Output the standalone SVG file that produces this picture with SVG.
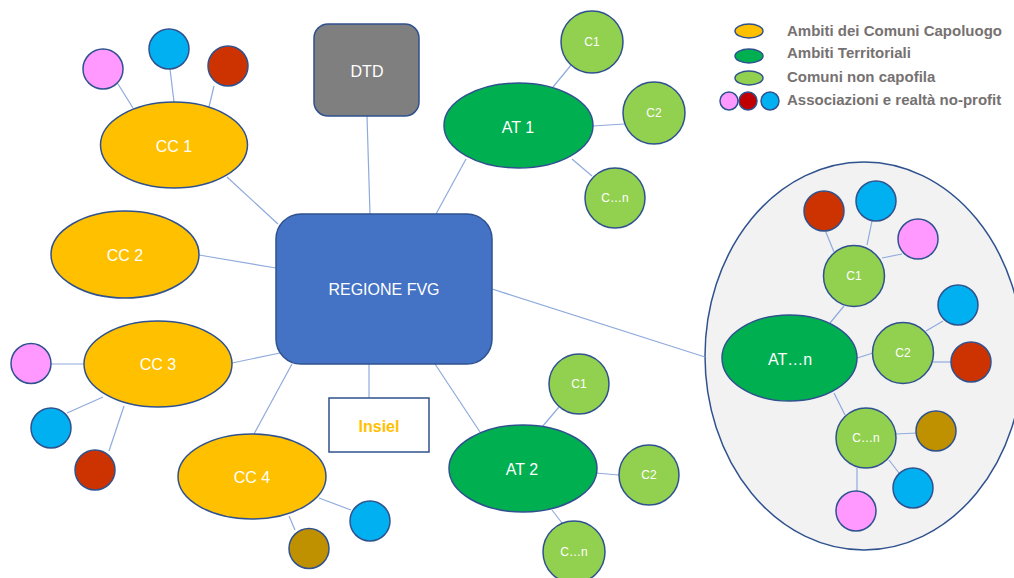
<svg xmlns="http://www.w3.org/2000/svg" width="1014" height="578" viewBox="0 0 1014 578">
<style>
.ln{stroke:#8FAADC;stroke-width:1.2;fill:none}
.nd{stroke:#2F528F;stroke-width:1.5}
.cc{fill:#FFC000}
.at{fill:#00B050}
.cm{fill:#92D050}
.pk{fill:#FF99FF}
.rd{fill:#CC3300}
.bl{fill:#00B0F0}
.br{fill:#BF9000}
.t{font-family:"Liberation Sans",Arial,sans-serif;fill:#FFFFFF;text-anchor:middle;dominant-baseline:central;font-size:16px}
.ts{font-size:12px}
.lg{font-family:"Liberation Sans",Arial,sans-serif;fill:#767171;font-weight:bold;font-size:15px}
</style>
<rect width="1014" height="578" fill="#FFFFFF"/>
<g id="cluster-atn">
<ellipse cx="864" cy="356" rx="159" ry="194" fill="#F2F2F2" stroke="#2F528F" stroke-width="1.5"/>
</g>
<g id="connectors">
<line class="ln" x1="367" y1="116" x2="370" y2="214"/>
<line class="ln" x1="227" y1="177" x2="278" y2="224"/>
<line class="ln" x1="199" y1="255" x2="276" y2="268"/>
<line class="ln" x1="466" y1="159" x2="436" y2="214"/>
<line class="ln" x1="492" y1="289" x2="705" y2="357"/>
<line class="ln" x1="232" y1="363" x2="280" y2="353"/>
<line class="ln" x1="292" y1="364" x2="254" y2="434"/>
<line class="ln" x1="369" y1="364" x2="369" y2="398"/>
<line class="ln" x1="435" y1="364" x2="480" y2="432"/>
<line class="ln" x1="118" y1="84" x2="133" y2="108"/>
<line class="ln" x1="170" y1="69" x2="174" y2="102"/>
<line class="ln" x1="214" y1="86" x2="209" y2="107"/>
<line class="ln" x1="51" y1="364" x2="84" y2="364"/>
<line class="ln" x1="67" y1="413" x2="103" y2="397"/>
<line class="ln" x1="109" y1="451" x2="124" y2="406"/>
<line class="ln" x1="319" y1="498" x2="351" y2="510"/>
<line class="ln" x1="289" y1="516" x2="295" y2="530"/>
<line class="ln" x1="572" y1="64" x2="553" y2="87"/>
<line class="ln" x1="593" y1="126" x2="624" y2="124"/>
<line class="ln" x1="572" y1="159" x2="592" y2="176"/>
<line class="ln" x1="559" y1="407" x2="542" y2="427"/>
<line class="ln" x1="596" y1="473" x2="619" y2="475"/>
<line class="ln" x1="552" y1="510" x2="562" y2="523"/>
<line class="ln" x1="830" y1="323" x2="844" y2="306"/>
<line class="ln" x1="857" y1="358" x2="873" y2="353"/>
<line class="ln" x1="834" y1="393" x2="845" y2="415"/>
<line class="ln" x1="834" y1="252" x2="825" y2="230"/>
<line class="ln" x1="867" y1="245" x2="872" y2="221"/>
<line class="ln" x1="882" y1="258" x2="902" y2="254"/>
<line class="ln" x1="926" y1="331" x2="943" y2="321"/>
<line class="ln" x1="933" y1="362" x2="952" y2="362"/>
<line class="ln" x1="896" y1="434" x2="917" y2="433"/>
<line class="ln" x1="889" y1="460" x2="899" y2="473"/>
<line class="ln" x1="857" y1="468" x2="857" y2="491"/>
</g>
<g id="regione">
<rect class="nd" x="276" y="214" width="216" height="150" rx="25" fill="#4472C4"/>
<text class="t" x="384" y="289">REGIONE FVG</text>
</g>
<g id="dtd">
<rect class="nd" x="314" y="24" width="105" height="92" rx="14" fill="#7F7F7F"/>
<text class="t" x="367" y="71">DTD</text>
</g>
<g id="insiel">
<rect x="329" y="398" width="100" height="54" fill="#FFFFFF" stroke="#2F528F" stroke-width="1.5"/>
<text class="t" x="379" y="426" style="fill:#FFC000;font-weight:bold">Insiel</text>
</g>
<g id="cc1">
<ellipse class="nd cc" cx="174" cy="145" rx="73.5" ry="43"/>
<text class="t" x="174" y="146">CC 1</text>
<circle class="nd pk" cx="103" cy="69" r="20"/>
<circle class="nd bl" cx="169" cy="49" r="20"/>
<circle class="nd rd" cx="228" cy="66" r="20"/>
</g>
<g id="cc2">
<ellipse class="nd cc" cx="125" cy="254.5" rx="74" ry="43.5"/>
<text class="t" x="125" y="255">CC 2</text>
</g>
<g id="cc3">
<ellipse class="nd cc" cx="158" cy="364" rx="74" ry="43"/>
<text class="t" x="158" y="364">CC 3</text>
<circle class="nd pk" cx="31" cy="363.5" r="20"/>
<circle class="nd bl" cx="51" cy="428" r="20"/>
<circle class="nd rd" cx="95" cy="470" r="20"/>
</g>
<g id="cc4">
<ellipse class="nd cc" cx="252" cy="476.5" rx="74" ry="42.5"/>
<text class="t" x="252" y="477">CC 4</text>
<circle class="nd bl" cx="370" cy="521" r="20"/>
<circle class="nd br" cx="309" cy="548.5" r="20"/>
</g>
<g id="at1">
<ellipse class="nd at" cx="518.5" cy="125.5" rx="74.5" ry="42.5"/>
<text class="t" x="518" y="127">AT 1</text>
<circle class="nd cm" cx="592" cy="42" r="31"/>
<text class="t ts" x="592" y="42">C1</text>
<circle class="nd cm" cx="654" cy="113" r="31"/>
<text class="t ts" x="654" y="113">C2</text>
<circle class="nd cm" cx="615" cy="198" r="30"/>
<text class="t ts" x="615" y="198">C…n</text>
</g>
<g id="at2">
<ellipse class="nd at" cx="523" cy="468.5" rx="74" ry="43.5"/>
<text class="t" x="522" y="469">AT 2</text>
<circle class="nd cm" cx="579" cy="384" r="30"/>
<text class="t ts" x="579" y="384">C1</text>
<circle class="nd cm" cx="649" cy="475" r="30"/>
<text class="t ts" x="649" y="475">C2</text>
<circle class="nd cm" cx="574" cy="552" r="31"/>
<text class="t ts" x="574" y="552">C…n</text>
</g>
<g id="atn">
<ellipse class="nd at" cx="789.5" cy="358" rx="67.5" ry="43"/>
<text class="t" x="790" y="359">AT…n</text>
<circle class="nd cm" cx="854" cy="276" r="30.5"/>
<text class="t ts" x="854" y="276">C1</text>
<circle class="nd cm" cx="903" cy="353" r="30.5"/>
<text class="t ts" x="903" y="353">C2</text>
<circle class="nd cm" cx="866" cy="438" r="30"/>
<text class="t ts" x="866" y="438">C…n</text>
<circle class="nd rd" cx="824" cy="211" r="20"/>
<circle class="nd bl" cx="876" cy="201" r="20"/>
<circle class="nd pk" cx="918" cy="239" r="20"/>
<circle class="nd bl" cx="958" cy="305" r="20"/>
<circle class="nd rd" cx="971" cy="362" r="20"/>
<circle class="nd br" cx="936" cy="431" r="20"/>
<circle class="nd bl" cx="913" cy="488" r="20"/>
<circle class="nd pk" cx="856" cy="511" r="20"/>
</g>
<g id="legend">
<ellipse class="nd cc" cx="749" cy="31" rx="14" ry="7"/>
<ellipse class="nd at" cx="749" cy="56" rx="14" ry="7"/>
<ellipse class="nd cm" cx="749" cy="78" rx="14" ry="7"/>
<circle class="nd pk" cx="729" cy="101" r="9"/>
<circle class="nd" cx="748" cy="101" r="9" fill="#C00000"/>
<circle class="nd bl" cx="770" cy="101" r="9"/>
<text class="lg" x="787" y="36">Ambiti dei Comuni Capoluogo</text>
<text class="lg" x="787" y="58">Ambiti Territoriali</text>
<text class="lg" x="787" y="82">Comuni non capofila</text>
<text class="lg" x="787" y="105">Associazioni e realtà no-profit</text>
</g>
</svg>
